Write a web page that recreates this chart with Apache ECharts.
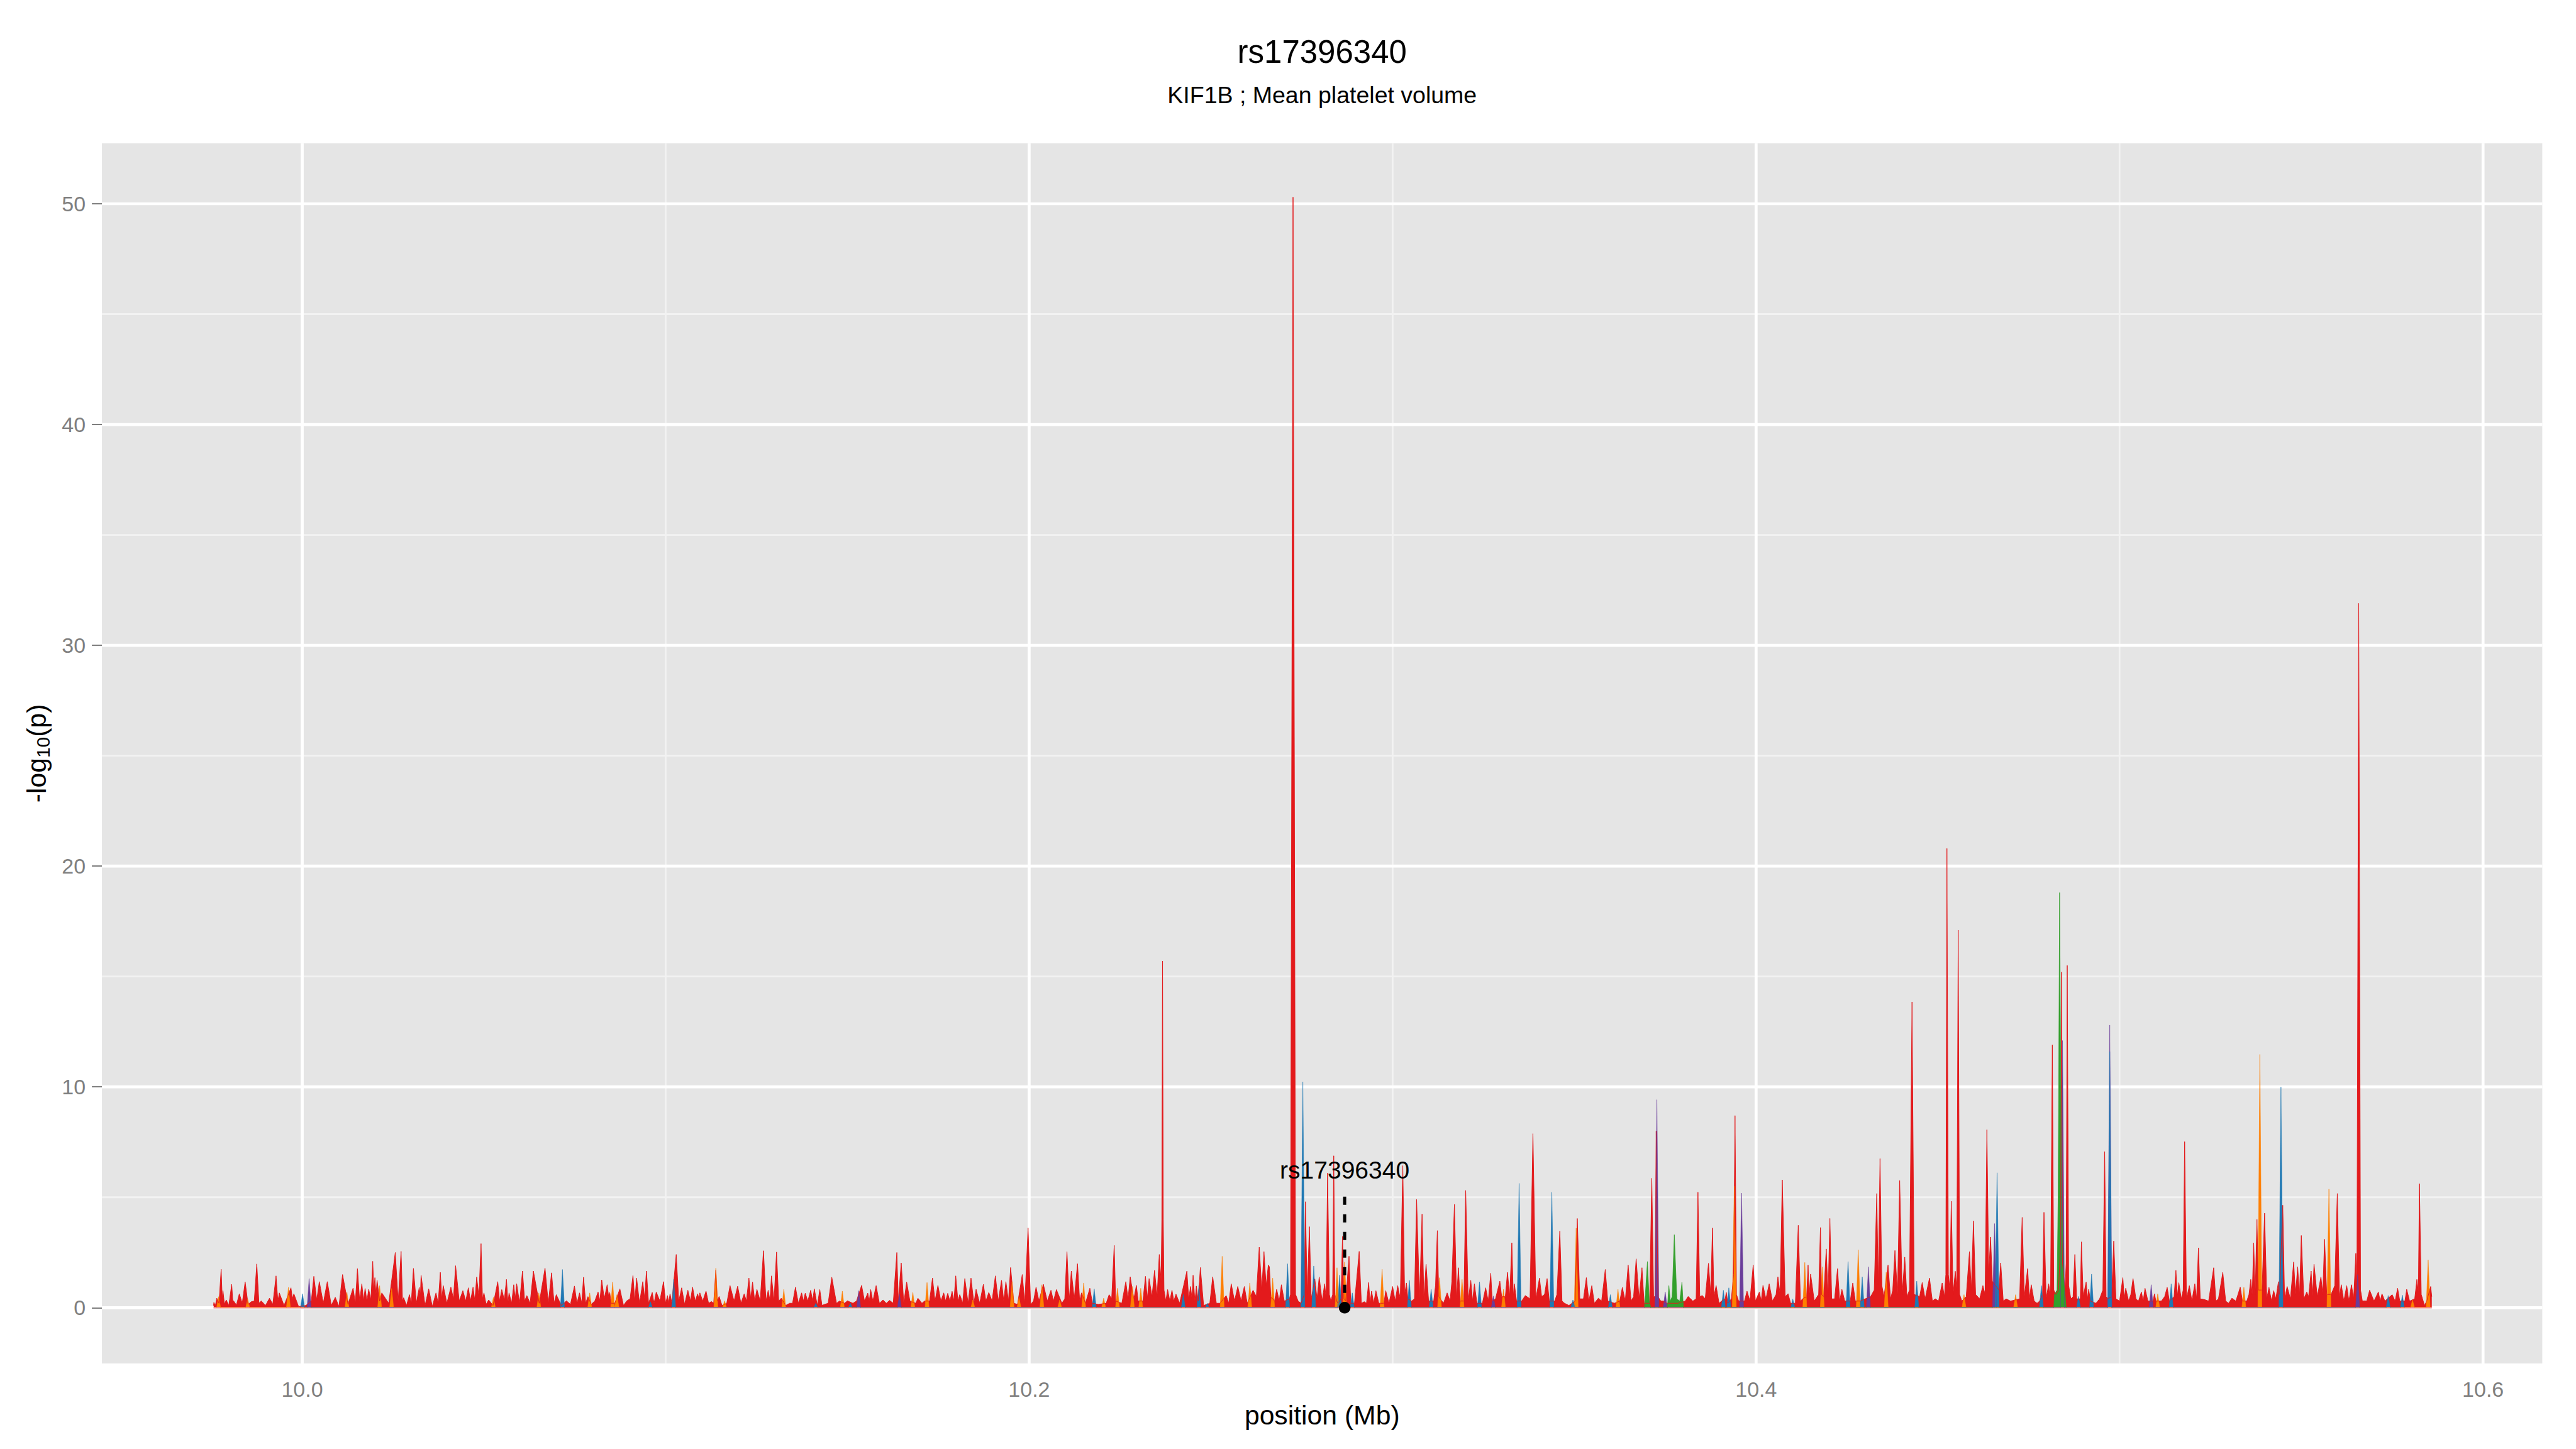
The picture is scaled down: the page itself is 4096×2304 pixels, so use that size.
<!DOCTYPE html>
<html><head><meta charset="utf-8">
<script src="https://cdn.jsdelivr.net/npm/echarts@6/dist/echarts.min.js"></script>
<style>html,body{margin:0;padding:0;background:#fff}#c{width:4096px;height:2304px}</style>
</head><body><div id="c"></div><script>
// ---------- data ----------
const titleText = 'rs17396340';
const subtitleText = 'KIF1B ; Mean platelet volume';
const xTitle = 'position (Mb)';
const xTicks = [10.0, 10.2, 10.4, 10.6];
const xMinorTicks = [10.1, 10.3, 10.5];
const yTicks = [0, 10, 20, 30, 40, 50];
const yMinorTicks = [5, 15, 25, 35, 45];
const xRange = [9.9449, 10.6163];
const yRange = [-2.53, 52.74];

const snpName = 'rs17396340';
const snpPos = 10.2868;
const snpLineTop = 5.03;
const snpLabelY = 6.22;

// red (main) -log10(p) profile: [position Mb, value]
const redData = [
[9.9756,0.1],[9.9757,.24],[9.9761,.1],[9.9765,.43],[9.9771,.2],[9.9777,1.74],[9.9780,.4],[9.9782,.77],[9.9786,.15],[9.9791,.35],[9.9798,.1],[9.9806,1.06],[9.9809,.3],[9.9811,.31],[9.9819,.12],[9.9827,.63],[9.9835,.2],[9.9843,1.17],[9.9851,.15],[9.9860,.27],[9.9868,.3],[9.9875,1.98],[9.9881,.2],[9.9887,.31],[9.9899,.1],[9.9910,.43],[9.9919,.15],[9.9928,1.44],[9.9933,.3],[9.9937,.67],[9.9950,.1],[9.9969,.9],[9.9973,.4],[9.9977,.63],[9.9990,.05],[10.0010,.1],[10.0025,.3],[10.0032,1.42],[10.0040,.35],[10.0047,1.18],[10.0058,.2],[10.0069,1.18],[10.0080,.1],[10.0091,.47],[10.0101,.05],[10.0111,1.5],[10.0126,.15],[10.0140,.89],[10.0146,.2],[10.0152,1.77],[10.0158,.3],[10.0164,1.08],[10.0169,.3],[10.0173,.87],[10.0178,.3],[10.0183,.83],[10.0189,.35],[10.0194,2.1],[10.0197,.8],[10.0200,1.36],[10.0203,.6],[10.0206,1.24],[10.0213,.3],[10.0219,.67],[10.0238,.2],[10.0256,2.5],[10.0264,.3],[10.0272,2.55],[10.0276,.3],[10.0279,.45],[10.0287,.1],[10.0295,.59],[10.0300,.2],[10.0306,1.78],[10.0314,.2],[10.0322,.92],[10.0325,.5],[10.0327,1.47],[10.0338,.1],[10.0348,.85],[10.0358,.05],[10.0368,.67],[10.0374,.2],[10.0380,1.6],[10.0384,.4],[10.0388,1.0],[10.0398,.2],[10.0409,.93],[10.0416,.4],[10.0422,1.9],[10.0432,.3],[10.0442,.77],[10.0450,.3],[10.0457,.9],[10.0463,.3],[10.0470,.93],[10.0475,.3],[10.0480,1.39],[10.0486,.5],[10.0492,2.9],[10.0496,.4],[10.0500,.67],[10.0506,.15],[10.0513,.35],[10.0525,.1],[10.0538,1.18],[10.0543,.3],[10.0549,.82],[10.0556,.35],[10.0562,1.28],[10.0566,.2],[10.0569,.67],[10.0576,.2],[10.0582,1.04],[10.0586,.4],[10.0590,1.09],[10.0598,.2],[10.0606,1.66],[10.0612,.3],[10.0618,.55],[10.0627,.2],[10.0636,1.66],[10.0652,.2],[10.0668,1.79],[10.0677,.2],[10.0686,1.58],[10.0693,.2],[10.0699,.59],[10.0713,.1],[10.0727,.31],[10.0738,.15],[10.0749,.98],[10.0756,.2],[10.0763,.67],[10.0769,.2],[10.0774,1.38],
[10.0780,.2],[10.0786,.5],[10.0795,.15],[10.0805,.3],[10.0814,.71],[10.0819,.3],[10.0824,1.26],[10.0831,.4],[10.0839,1.04],[10.0843,.5],[10.0846,.69],[10.0850,.2],[10.0860,.2],[10.0874,.85],[10.0884,.1],[10.0893,.31],[10.0902,.4],[10.0910,1.46],[10.0915,.3],[10.0920,1.34],[10.0928,.2],[10.0937,1.18],[10.0942,.4],[10.0947,1.66],[10.0953,.2],[10.0963,.69],[10.0968,.2],[10.0974,.71],[10.0984,.3],[10.0994,1.18],[10.1000,.2],[10.1005,.55],[10.1008,.2],[10.1012,.63],[10.1017,.2],[10.1029,2.41],[10.1036,.3],[10.1044,.9],[10.1052,.15],[10.1061,.79],[10.1068,.3],[10.1074,.93],[10.1081,.3],[10.1088,.63],[10.1091,.4],[10.1094,.67],[10.1102,.3],[10.1111,.75],[10.1118,.2],[10.1126,.28],[10.1132,.2],[10.1138,1.7],[10.1142,.3],[10.1147,.51],[10.1155,.1],[10.1168,.2],[10.1177,1.0],[10.1188,.3],[10.1198,.97],[10.1207,.2],[10.1216,.63],[10.1222,.3],[10.1229,1.34],[10.1234,.4],[10.1239,1.16],[10.1245,.3],[10.1251,.83],[10.1260,.3],[10.1269,2.58],[10.1276,.3],[10.1282,.79],[10.1287,.3],[10.1291,1.44],[10.1298,.3],[10.1305,2.52],[10.1311,.3],[10.1318,.43],[10.1330,.1],[10.1341,.2],[10.1349,.2],[10.1357,.93],[10.1365,.2],[10.1374,.67],[10.1379,.3],[10.1384,.66],[10.1391,.3],[10.1399,.79],[10.1404,.3],[10.1409,.85],[10.1417,.1],[10.1424,.82],[10.1430,.1],[10.1437,.15],[10.1447,.2],[10.1457,1.38],[10.1470,.2],[10.1478,.3],[10.1492,.2],[10.1500,.31],[10.1515,.2],[10.1525,.3],[10.1539,1.01],[10.1547,.3],[10.1556,.66],[10.1560,.3],[10.1564,.82],[10.1570,.3],[10.1579,1.0],[10.1588,.2],[10.1598,.35],[10.1607,.2],[10.1616,.33],[10.1626,.2],[10.1636,2.5],[10.1640,.3],[10.1648,2.03],[10.1655,.2],[10.1663,1.16],[10.1672,.3],[10.1688,.2],[10.1694,.43],[10.1705,.2],[10.1712,.3],[10.1726,.3],[10.1734,1.34],[10.1741,.3],[10.1749,1.01],[10.1757,.3],[10.1765,.67],[10.1770,.3],[10.1776,.65],[10.1782,.3],[10.1788,.74],[10.1793,.3],[10.1798,1.44],[10.1804,.3],[10.1809,.59],
[10.1811,.51],[10.1817,.2],[10.1823,1.32],[10.1832,.2],[10.1840,1.34],[10.1848,.2],[10.1854,.83],[10.1864,.2],[10.1874,1.06],[10.1881,.3],[10.1889,.69],[10.1898,.3],[10.1907,1.44],[10.1915,.3],[10.1924,1.24],[10.1930,.3],[10.1936,1.18],[10.1943,.3],[10.1949,1.82],[10.1958,.2],[10.1968,.15],[10.1981,1.5],[10.1988,.2],[10.1997,3.61],[10.2004,.15],[10.2012,.3],[10.2019,.93],[10.2027,.3],[10.2039,1.06],[10.2050,.3],[10.2060,.79],[10.2067,.3],[10.2075,.82],[10.2090,.2],[10.2098,.4],[10.2104,2.54],[10.2110,.3],[10.2116,1.66],[10.2124,.4],[10.2133,1.99],[10.2139,.3],[10.2144,.67],[10.2155,.2],[10.2167,.88],[10.2174,.2],[10.2190,.15],[10.2212,.2],[10.2220,.59],[10.2227,.4],[10.2234,2.82],[10.2238,.3],[10.2255,.2],[10.2266,1.18],[10.2272,.4],[10.2278,1.4],[10.2288,.4],[10.2295,1.01],[10.2300,.3],[10.2313,.3],[10.2320,1.42],[10.2325,.4],[10.2330,1.32],[10.2338,.5],[10.2345,1.69],[10.2352,.5],[10.2358,2.41],[10.2363,1.2],[10.2365,4],[10.2367,15.7],[10.2369,4],[10.2371,.8],[10.2376,.3],[10.2381,.82],[10.2387,.3],[10.2393,.79],[10.2398,.3],[10.2404,.61],[10.2414,.2],[10.2434,1.66],[10.2439,.4],[10.2444,.96],[10.2448,.4],[10.2451,1.47],[10.2456,.3],[10.2460,.98],[10.2465,.3],[10.2471,1.82],[10.2480,.1],[10.2497,.2],[10.2505,1.4],[10.2515,.2],[10.2525,.2],[10.2542,.55],[10.2549,.2],[10.2556,1.08],[10.2565,.3],[10.2574,.96],[10.2583,.3],[10.2592,.96],[10.2600,.2],[10.2616,.79],[10.2625,.5],[10.2633,2.74],[10.2640,.8],[10.2646,2.54],[10.2652,1.0],[10.2658,1.93],[10.2661,1.85],[10.2665,.5],[10.2675,.3],[10.2681,.83],[10.2688,.3],[10.2694,1.04],[10.2702,.3],[10.2716,.4],[10.2719,.6],[10.2726,50.3],[10.2733,.6],[10.2740,.3],[10.2748,.2],[10.2757,.6],[10.2760,4.8],[10.2765,.6],[10.2771,3.67],[10.2776,.4],[10.2786,1.3],[10.2792,.4],[10.2798,1.39],[10.2806,.3],[10.2813,1.08],[10.2817,.4],[10.2821,6.1],[10.2826,.6],[10.2830,.3],[10.2835,.6],[10.2838,6.88],[10.2841,.6],
[10.2846,.3],[10.2850,.2],[10.2858,.4],[10.2862,3.23],[10.2866,.4],[10.2871,.3],[10.2880,2.33],[10.2885,.2],[10.2895,.2],[10.2908,2.55],[10.2914,.2],[10.2922,.27],[10.2928,.2],[10.2934,1.14],[10.2938,.2],[10.2942,.75],[10.2948,.2],[10.2954,.77],[10.2962,.2],[10.2976,.2],[10.2981,.77],[10.2990,.2],[10.3000,.96],[10.3007,.3],[10.3014,1.0],[10.3021,.4],[10.3028,6.43],[10.3033,.6],[10.3038,1.12],[10.3042,.4],[10.3052,.3],[10.3060,.4],[10.3066,4.9],[10.3074,.4],[10.3081,4.24],[10.3086,.4],[10.3092,1.97],[10.3099,.3],[10.3113,.3],[10.3118,1.0],[10.3123,3.49],[10.3127,.5],[10.3140,.2],[10.3150,.67],[10.3158,.3],[10.3163,1.2],[10.3170,4.68],[10.3176,.4],[10.3181,1.81],[10.3186,.3],[10.3196,.3],[10.3201,5.31],[10.3208,.3],[10.3215,1.24],[10.3220,.3],[10.3225,1.08],[10.3232,.2],[10.3247,.2],[10.3256,.9],[10.3263,.3],[10.3270,1.56],[10.3274,.3],[10.3283,.4],[10.3295,1.2],[10.3300,.5],[10.3310,.5],[10.3316,1.6],[10.3322,.5],[10.3328,2.94],[10.3332,.5],[10.3335,1.08],[10.3341,.3],[10.3355,.3],[10.3365,.55],[10.3378,.4],[10.3386,7.88],[10.3394,.4],[10.3404,1.34],[10.3410,.5],[10.3418,.6],[10.3425,1.32],[10.3431,.3],[10.3446,.3],[10.3452,.6],[10.3460,3.47],[10.3466,.3],[10.3473,.2],[10.3485,.1],[10.3502,.3],[10.3508,4.04],[10.3515,.4],[10.3525,.4],[10.3533,1.36],[10.3540,.3],[10.3548,1.0],[10.3555,.2],[10.3566,.43],[10.3575,.3],[10.3585,1.73],[10.3592,.3],[10.3610,.2],[10.3625,.3],[10.3632,.92],[10.3640,.3],[10.3648,1.93],[10.3656,.3],[10.3663,.5],[10.3670,2.21],[10.3678,.4],[10.3686,1.81],[10.3692,.2],[10.3707,.2],[10.3713,5.86],[10.3718,.5],[10.3722,.5],[10.3725,8.0],[10.3730,.5],[10.3738,.3],[10.3745,.3],[10.3755,.2],[10.3768,.2],[10.3785,.2],[10.3805,.3],[10.3813,.51],[10.3826,.3],[10.3835,.4],[10.3840,5.23],[10.3845,.5],[10.3852,.55],[10.3860,.4],[10.3869,2.01],[10.3875,.6],
[10.3880,3.61],[10.3884,.5],[10.3890,1.0],[10.3898,.2],[10.3905,.3],[10.3915,.4],[10.3918,.69],[10.3922,.2],[10.3932,.4],[10.3938,1.5],[10.3942,8.7],[10.3946,.6],[10.3952,.3],[10.3968,.3],[10.3975,.75],[10.3983,.3],[10.3992,1.93],[10.3998,.3],[10.4009,.71],[10.4014,.3],[10.4019,1.01],[10.4027,.4],[10.4036,1.08],[10.4045,.3],[10.4055,.6],[10.4060,1.4],[10.4066,.6],[10.4072,5.79],[10.4080,.5],[10.4088,.63],[10.4095,.2],[10.4108,.2],[10.4116,3.73],[10.4122,.3],[10.4128,.4],[10.4139,.5],[10.4143,1.93],[10.4146,.5],[10.4150,1.52],[10.4160,.3],[10.4172,.6],[10.4177,3.63],[10.4180,.6],[10.4186,.5],[10.4193,2.66],[10.4198,.5],[10.4203,4.04],[10.4208,.4],[10.4216,.4],[10.4224,1.77],[10.4230,.3],[10.4236,.83],[10.4244,.3],[10.4259,.3],[10.4266,1.12],[10.4273,.3],[10.4286,.3],[10.4300,.4],[10.4315,.5],[10.4325,.8],[10.4332,5.17],[10.4336,1.0],[10.4341,6.75],[10.4346,1.0],[10.4352,.5],[10.4363,1.93],[10.4370,.4],[10.4376,.8],[10.4382,2.59],[10.4389,.6],[10.4395,5.76],[10.4402,.6],[10.4409,2.29],[10.4415,.5],[10.4422,.8],[10.4429,13.85],[10.4435,.6],[10.4450,.5],[10.4457,1.14],[10.4465,.4],[10.4477,1.34],[10.4485,.3],[10.4493,.4],[10.4502,.3],[10.4512,1.12],[10.4518,.5],[10.4522,1.5],[10.4525,20.8],[10.4529,1.5],[10.4533,.8],[10.4537,4.82],[10.4542,.6],[10.4548,1.65],[10.4552,.8],[10.4556,17.1],[10.4560,.6],[10.4566,.3],[10.4578,.5],[10.4587,2.54],[10.4592,.8],[10.4598,3.93],[10.4604,.6],[10.4615,.4],[10.4624,1.0],[10.4630,.6],[10.4635,8.06],[10.4640,1.5],[10.4645,3.2],[10.4650,1.2],[10.4668,.8],[10.4673,2.03],[10.4680,.3],[10.4688,.4],[10.4700,.3],[10.4725,.4],[10.4732,4.09],[10.4738,.5],[10.4747,1.77],[10.4752,.4],[10.4757,1.04],[10.4765,.3],[10.4773,.2],[10.4780,.3],[10.4788,.6],[10.4792,4.32],[10.4798,.4],[10.4805,1.08],[10.4810,.5],[10.4815,11.9],[10.4819,.8],[10.4825,.6],[10.4832,.8],[10.4838,3],[10.4840,15.2],[10.4843,2],[10.4850,.8],[10.4853,2],[10.4856,15.5],[10.4860,1.0],[10.4866,.4],[10.4872,.5],[10.4877,2.41],[10.4882,.4],[10.4892,.4],[10.4895,2.98],[10.4900,.5],[10.4908,1.16],
[10.4912,.4],[10.4915,.83],[10.4920,.3],[10.4935,.2],[10.4945,.4],[10.4954,.8],[10.4959,7.07],[10.4963,.5],[10.4968,.4],[10.4978,.5],[10.4984,3.02],[10.4990,.4],[10.5000,.3],[10.5009,1.36],[10.5013,.4],[10.5017,.88],[10.5025,.3],[10.5031,.6],[10.5037,1.32],[10.5045,.4],[10.5052,.3],[10.5060,.71],[10.5065,.3],[10.5070,.88],[10.5078,.3],[10.5092,.3],[10.5096,.63],[10.5100,.3],[10.5115,.3],[10.5124,.5],[10.5131,.92],[10.5137,.3],[10.5150,.5],[10.5155,1.69],[10.5159,.5],[10.5163,1.13],[10.5170,.4],[10.5175,.8],[10.5179,7.52],[10.5184,.4],[10.5192,1.0],[10.5199,.3],[10.5207,1.08],[10.5212,.4],[10.5217,2.71],[10.5222,.4],[10.5233,.37],[10.5245,.3],[10.5259,1.81],[10.5265,.3],[10.5272,.4],[10.5284,1.6],[10.5292,.3],[10.5300,.2],[10.5309,.43],[10.5320,.3],[10.5332,.93],[10.5338,.3],[10.5350,.3],[10.5356,.6],[10.5361,1.28],[10.5365,.6],[10.5369,2.94],[10.5373,.6],[10.5378,4.0],[10.5382,.8],[10.5392,.8],[10.5399,4.28],[10.5405,.4],[10.5411,.92],[10.5418,.3],[10.5424,.77],[10.5430,.4],[10.5437,1.18],[10.5440,.6],[10.5449,4.64],[10.5454,.4],[10.5461,.96],[10.5470,.4],[10.5479,2.07],[10.5484,.6],[10.5490,1.85],[10.5495,.5],[10.5500,3.27],[10.5507,.4],[10.5515,.71],[10.5520,.5],[10.5527,1.66],[10.5531,.5],[10.5535,1.97],[10.5544,.5],[10.5554,1.4],[10.5559,.6],[10.5564,3.1],[10.5570,.6],[10.5582,.6],[10.5592,1.0],[10.5599,5.17],[10.5605,.5],[10.5610,1.04],[10.5617,.3],[10.5625,1.0],[10.5631,.3],[10.5638,1.04],[10.5644,.4],[10.5650,2.46],[10.5653,.8],[10.5658,31.9],[10.5663,.8],[10.5668,.3],[10.5674,.31],[10.5680,.3],[10.5688,.79],[10.5700,.3],[10.5712,.71],[10.5717,.3],[10.5722,.63],[10.5730,.3],[10.5750,.59],[10.5758,.3],[10.5765,.88],[10.5771,.3],[10.5785,.3],[10.5790,.83],[10.5798,.3],[10.5812,.4],[10.5818,1.28],[10.5822,.7],[10.5825,5.62],[10.5830,.6],[10.5839,.1],[10.5845,.3],[10.5856,.96],[10.5859,.5]
];

// other LD groups: peaks [position Mb, value]
const orangePeaks = [
[9.9770,.5],[9.9850,.39],[9.9962,.92],[10.0123,.7],[10.0213,1.0],[10.0246,.87],[10.0526,.47],[10.0651,.67],[10.0791,.67],[10.0854,1.16],[10.0866,.59],[10.1138,1.79],[10.1162,.31],[10.1325,.83],[10.1486,.75],[10.1680,.69],[10.1719,1.14],[10.1845,.35],[10.1953,1.18],[10.1972,.47],[10.2035,1.04],[10.2084,.35],[10.2150,1.12],[10.2205,.43],[10.2243,.88],[10.2284,.96],[10.2307,.88],[10.2531,2.33],[10.2607,1.12],[10.2670,1.34],[10.2847,1.81],[10.2868,2.07],[10.2971,1.74],[10.3129,1.36],[10.3191,1.28],[10.3305,.83],[10.3505,3.6],[10.3620,.83],[10.3940,5.5],[10.4134,2.05],[10.4182,1.85],[10.4281,2.62],[10.4358,1.6],[10.4572,.59],[10.4714,.59],[10.5105,.63],[10.5342,.92],[10.5386,11.47],[10.5576,5.37],[10.5806,.35],[10.5849,2.17]
];
const bluePeaks = [
[10.0001,.63],[10.0716,1.73],[10.0958,.27],[10.1022,1.28],[10.1413,.2],[10.1508,.2],[10.2179,.85],[10.2424,.6],[10.2467,1.0],[10.2490,.2],[10.2711,1.99],[10.2753,10.23],[10.2783,1.89],[10.2854,1.48],[10.2889,.67],[10.3046,1.24],[10.3106,.83],[10.3239,1.17],[10.3348,5.63],[10.3438,5.23],[10.3496,.35],[10.3599,.59],[10.3910,.79],[10.3925,.9],[10.4101,.39],[10.4253,2.09],[10.4292,1.4],[10.4442,1.2],[10.4663,6.11],[10.4785,1.0],[10.4887,.51],[10.4923,1.52],[10.4973,11.6],[10.5142,1.08],[10.5444,10.0],[10.5739,.55],[10.5778,.57]
];
const purplePeaks = [
[10.0019,1.32],[10.1531,.77],[10.1643,.63],[10.3277,.53],[10.3727,9.42],[10.3750,.71],[10.3960,5.19],[10.4309,1.85],[10.4656,3.81],[10.4843,12.1],[10.4973,12.8],[10.5087,1.04],[10.5655,1.5]
];
const greenData = [
[10.3693,0],[10.3701,2.09],[10.3706,0.3],[10.3710,0],[10.3756,0],[10.3760,1.0],[10.3764,0.3],[10.3769,0.5],[10.3775,3.31],[10.3782,0.4],[10.3790,0.3],[10.3796,1.15],[10.3800,0],
[10.4819,0],[10.4821,0.6],[10.4828,0.8],[10.4831,5.0],[10.4835,18.8],[10.4840,5.5],[10.4846,1.2],[10.4850,0.6],[10.4853,0]
];

// ---------- build ----------
const FONT = '"Liberation Sans", Arial, Helvetica, sans-serif';
const SPIKE_HALF = 0.00055; // spike half width (style)
function spikes(peaks) {
  const out = [];
  peaks.forEach(p => { out.push([p[0] - SPIKE_HALF, 0], [p[0], p[1]], [p[0] + SPIKE_HALF, 0]); });
  return out;
}
function areaSeries(data, color, lw) {
  return {
    type: 'line', data: data, symbol: 'none', showSymbol: false, silent: true, z: 3,
    lineStyle: { width: lw, color: color }, areaStyle: { color: color, opacity: 1 },
    emphasis: { disabled: true }, animation: false
  };
}
function gridLine(pts, color, w, z) {
  return { type: 'line', data: pts, symbol: 'none', silent: true, z: z || 1, lineStyle: { color: color, width: w }, animation: false, emphasis: { disabled: true } };
}
const series = [];
xMinorTicks.forEach(v => series.push(gridLine([[v, yRange[0]], [v, yRange[1]]], '#F2F2F2', 2.8)));
yMinorTicks.forEach(v => series.push(gridLine([[xRange[0], v], [xRange[1], v]], '#F2F2F2', 2.8)));
xTicks.forEach(v => series.push(gridLine([[v, yRange[0]], [v, yRange[1]]], '#FFFFFF', 4.7)));
yTicks.forEach(v => series.push(gridLine([[xRange[0], v], [xRange[1], v]], '#FFFFFF', 4.7)));

series.push(areaSeries(redData, '#E31A1C', 1));
series.push(gridLine([[redData[0][0], 0], [redData[redData.length - 1][0], 0]], '#EE8A8B', 2.5, 3));
series.push(areaSeries(spikes(purplePeaks), '#6A3D9A', 0.6));
series.push(areaSeries(greenData, '#33A02C', 0.8));
series.push(areaSeries(spikes(orangePeaks), '#FF7F00', 0.6));
series.push(areaSeries(spikes(bluePeaks), '#1F78B4', 0.6));
// annotation
series.push({ type: 'line', data: [[snpPos, snpLineTop], [snpPos, 0]], symbol: 'none', silent: true, animation: false, z: 10,
  lineStyle: { color: '#000000', width: 5, type: [13, 15] } });
series.push({ type: 'scatter', data: [[snpPos, 0]], symbol: 'circle', symbolSize: 18.5, silent: true, animation: false, z: 11,
  clip: false, itemStyle: { color: '#000000', opacity: 1 } });
series.push({ type: 'scatter', data: [[snpPos, snpLabelY]], symbolSize: 2, silent: true, animation: false, z: 12,
  itemStyle: { color: 'rgba(0,0,0,0)', opacity: 1 },
  label: { show: true, position: 'inside', formatter: snpName, fontSize: 39, color: '#000000', opacity: 1, fontFamily: FONT } });

const gridL = 162.1, gridT = 227.8, gridR = 4042.4, gridB = 2168.1;
const option = {
  animation: false,
  backgroundColor: '#FFFFFF',
  textStyle: { fontFamily: FONT },
  grid: { left: gridL, top: gridT, width: gridR - gridL, height: gridB - gridT, show: true, backgroundColor: '#E5E5E5', borderWidth: 0, containLabel: false },
  xAxis: {
    type: 'value', min: xRange[0], max: xRange[1],
    axisLine: { show: false },
    axisTick: { show: true, customValues: xTicks, length: 16, lineStyle: { color: '#7F7F7F', width: 2 } },
    axisLabel: { show: true, customValues: xTicks, formatter: v => v.toFixed(1), color: '#7F7F7F', fontSize: 34, margin: 24, fontFamily: FONT },
    splitLine: { show: false }
  },
  yAxis: {
    type: 'value', min: yRange[0], max: yRange[1],
    axisLine: { show: false },
    axisTick: { show: true, customValues: yTicks, length: 16, lineStyle: { color: '#7F7F7F', width: 2 } },
    axisLabel: { show: true, customValues: yTicks, formatter: v => String(v), color: '#7F7F7F', fontSize: 34, margin: 26, fontFamily: FONT },
    splitLine: { show: false }
  },
  graphic: [
    { type: 'text', x: (gridL + gridR) / 2, y: 82.3, silent: true,
      style: { text: titleText, align: 'center', verticalAlign: 'middle', fontSize: 51, fontFamily: FONT, fill: '#000' } },
    { type: 'text', x: (gridL + gridR) / 2, y: 151, silent: true,
      style: { text: subtitleText, align: 'center', verticalAlign: 'middle', fontSize: 37.5, fontFamily: FONT, fill: '#000' } },
    { type: 'text', x: (gridL + gridR) / 2, y: 2250, silent: true,
      style: { text: xTitle, align: 'center', verticalAlign: 'middle', fontSize: 42.7, fontFamily: FONT, fill: '#000' } },
    { type: 'text', x: 58, y: (gridT + gridB) / 2, rotation: Math.PI / 2, silent: true,
      style: { text: '{a|-log}{s|10}{a|(p)}', align: 'center', verticalAlign: 'middle', fontFamily: FONT, fill: '#000',
        rich: { a: { fontSize: 42.7, fontFamily: FONT, lineHeight: 50, fill: '#000' },
                s: { fontSize: 30, fontFamily: FONT, lineHeight: 34, verticalAlign: 'bottom', fill: '#000' } } } }
  ],
  series: series
};
const chart = echarts.init(document.getElementById('c'), null, { renderer: 'svg', width: 4096, height: 2304 });
chart.setOption(option);
</script></body></html>
